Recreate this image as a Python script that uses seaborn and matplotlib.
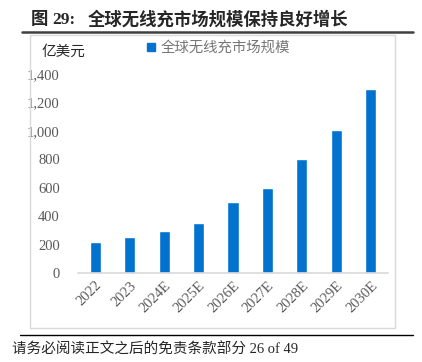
import matplotlib
matplotlib.use("Agg")
import matplotlib.pyplot as plt
import matplotlib.patches as mpatches
from matplotlib.lines import Line2D
from matplotlib.ticker import FuncFormatter
import seaborn as sns
import pandas as pd

# data
years = ["2022", "2023", "2024E", "2025E", "2026E", "2027E", "2028E", "2029E", "2030E"]
market_size = [220, 252, 298, 356, 500, 600, 802, 1004, 1292]
series_name = "全球无线充市场规模"
unit_label = "亿美元"
fig_word = "图"
fig_number = "29:"
title_text = "全球无线充市场规模保持良好增长"
footer_text = "请务必阅读正文之后的免责条款部分 26 of 49"

df = pd.DataFrame({"year": years, "value": market_size})

sns.set_style("white")
serif_cjk = ["Liberation Serif", "Noto Sans CJK SC"]
plt.rcParams["font.family"] = serif_cjk

bar_color = "#0173CF"
tick_color = "#595959"

fig = plt.figure(figsize=(4.22, 3.62), dpi=100)
W, H = 422, 362

# outer chart frame
fig.patches.append(mpatches.Rectangle((30 / W, 1 - 328 / H), 365 / W, 293 / H,
                                      transform=fig.transFigure, fill=False,
                                      edgecolor="#D9D9D9", linewidth=1))
# rule under the title and above the footer
fig.add_artist(Line2D([22 / W, 413 / W], [1 - 32 / H, 1 - 32 / H], transform=fig.transFigure,
                      color="#404040", linewidth=1.8))
fig.add_artist(Line2D([20 / W, 413 / W], [1 - 334.5 / H, 1 - 334.5 / H], transform=fig.transFigure,
                      color="black", linewidth=1.0))

ax = fig.add_axes([78 / W, 1 - 273.3 / H, 310 / W, 199.3 / H])
sns.barplot(data=df, x="year", y="value", color=bar_color, width=0.32,
            saturation=1, ax=ax)
ax.set_ylim(0, 1400)
ax.set_yticks(range(0, 1401, 200))
ax.yaxis.set_major_formatter(FuncFormatter(lambda v, p: f"{int(v):,}"))
ax.set_xlabel("")
ax.set_ylabel("")
for s in ["top", "right", "left"]:
    ax.spines[s].set_visible(False)
ax.spines["bottom"].set_color("#D9D9D9")
ax.spines["bottom"].set_linewidth(1.2)
ax.tick_params(axis="y", length=0, pad=13, labelsize=10.5, labelcolor=tick_color)
ax.tick_params(axis="x", length=0, pad=4, labelsize=10.5, labelcolor=tick_color)
for lab in ax.get_xticklabels():
    lab.set_rotation(45)
    lab.set_ha("right")
    lab.set_rotation_mode("anchor")

ax.legend(handles=[mpatches.Patch(color=bar_color, label=series_name)],
          loc="center left", bbox_to_anchor=(140 / W, 1 - 48 / H),
          bbox_transform=fig.transFigure, frameon=False, borderpad=0,
          handlelength=0.55, handleheight=0.55, handletextpad=0.35,
          prop={"family": ["Noto Sans CJK SC"], "size": 10.4, "weight": "light"},
          labelcolor="#767676")

fig.text(42 / W, 1 - 52 / H, unit_label, fontsize=10.5, color="#262626",
         family=["Noto Sans CJK SC"], va="center", ha="left")
fig.text(31 / W, 1 - 19.5 / H, fig_word, fontsize=12.5, fontweight="bold",
         family=serif_cjk, va="center", ha="left")
fig.text(52 / W, 1 - 19.5 / H, fig_number, fontsize=12.5, fontweight="bold",
         family=serif_cjk, va="center", ha="left")
fig.text(88 / W, 1 - 19.5 / H, title_text, fontsize=12.5, fontweight="bold",
         family=serif_cjk, va="center", ha="left")
fig.text(12 / W, 1 - 350 / H, footer_text, fontsize=10.5, family=serif_cjk,
         va="center", ha="left")

fig.savefig("out.png", dpi=100)
